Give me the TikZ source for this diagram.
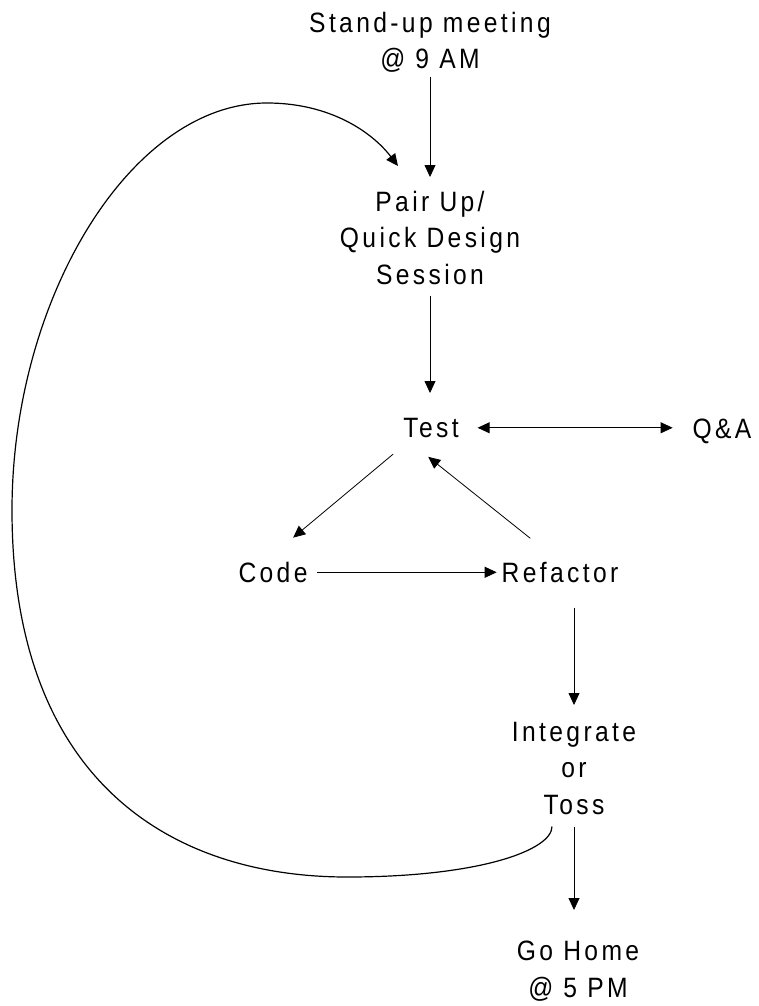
\documentclass[tikz,border=0pt]{standalone}
\usepackage{fontspec}
\setmainfont{Liberation Sans}[FakeStretch=0.88,LetterSpace=12]
\usetikzlibrary{arrows.meta}

\begin{document}
\begin{tikzpicture}[x=1pt,y=-1pt,>={Triangle[length=12pt,width=11pt]},line width=0.8pt]
    \tikzstyle{txt} = [inner sep=0pt,outer sep=0pt,align=center,anchor=north,font=\fontsize{28}{36.5}\selectfont]
    \useasboundingbox (0,0) rectangle (758,1006);
    \node (standup)[txt] at (430,12) {Stand-up meeting\\@ 9 AM};
    \node (pair)[txt] at (430,191) {Pair Up/\\Quick Design\\Session};
    \node (test)[txt] at (431,418) {Test};
    \node (qa)[txt] at (722,419) {Q\&A};
    \node (code)[txt] at (273,562) {Code};
    \node (refactor)[txt] at (560,562) {Refactor};
    \node (integrate)[txt] at (574,722) {Integrate\\or\\Toss};
    \node (home)[txt] at (578,941) {Go Home\\@ 5 PM};
    \draw [->,shorten <=4pt,shorten >=14pt] (standup.south) -- (pair.north);
    \draw [->,shorten <=11pt,shorten >=25pt] (pair.south) -- (pair.south |- test.north);
    \draw [<->,shorten <=19pt,shorten >=20pt] (test.east) -- (test.east -| qa.west);
    \draw [->,shorten <=26pt,shorten >=38pt] ([xshift=-18pt]test.south) -- ([xshift=-9pt]code.north);
    \draw [->,shorten <=38pt,shorten >=31pt] (refactor.north) -- ([xshift=-27pt]test.south);
    \draw [->,shorten <=10pt,shorten >=5pt] (code.east) -- (code.east -| refactor.west);
    \draw [->,shorten <=25pt,shorten >=17pt] (integrate.north |- refactor.south) -- (integrate.north);
    \draw [->,shorten <=12pt,shorten >=31pt] (integrate.south) -- (integrate.south |- home.north);
    % back to pairing after integrating
    \draw [->,line width=1.2pt] ([xshift=-22pt,yshift=-12pt]integrate.south) .. controls (552,850) and (480,877) .. (347,877)
        .. controls (170,877) and (12,780) .. (12,510) .. controls (12,300) and (130,103) .. (267,103)
        .. controls (330,103) and (372,132) .. ([xshift=-32pt,yshift=25pt]pair.north);
\end{tikzpicture}
\end{document}
